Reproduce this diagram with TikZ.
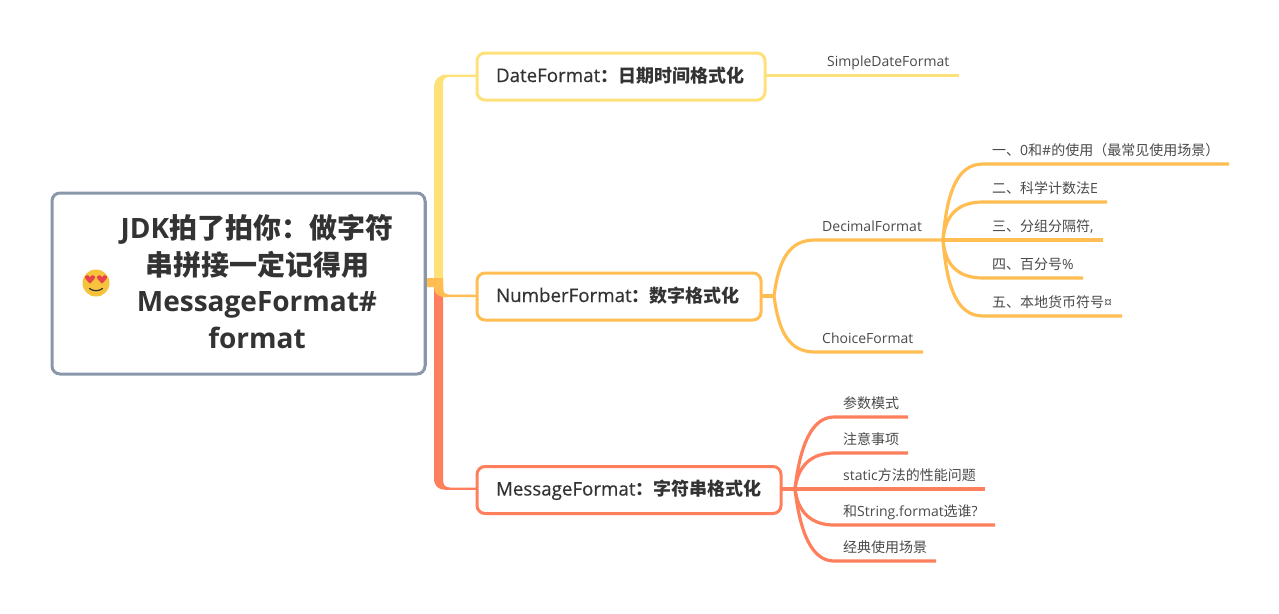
\documentclass[tikz,border=0pt]{standalone}
\usepackage{fontspec}
\setmainfont{Open Sans}
\newfontfamily\cjk{Noto Sans CJK SC}
\newfontfamily\latmed[FakeBold=0.4,Scale=1.04]{Open Sans}
\newcommand{\cj}[1]{{\cjk #1}}
\newcommand{\cjbf}[1]{{\cjk\bfseries #1}}
\usetikzlibrary{calc}
\definecolor{rootline}{HTML}{8A97AB}
\definecolor{ybr}{HTML}{FFE17A}
\definecolor{obr}{HTML}{FFBD52}
\definecolor{rbr}{HTML}{FF7F5C}
\definecolor{txtdark}{HTML}{333333}
\definecolor{txtleaf}{HTML}{4A4A4A}
\definecolor{emo}{HTML}{F6C33C}
\definecolor{heart}{HTML}{E8434C}
\tikzset{
  rootbox/.style={draw=rootline,line width=3pt,rounded corners=8pt,fill=white,minimum width=373pt,minimum height=181pt,inner sep=0,outer sep=0},
  rootlabel/.style={text=txtdark,align=center,inner sep=0,font=\fontsize{28}{36.5}\selectfont\bfseries},
  branchbox/.style={line width=3pt,rounded corners=8pt,fill=white,inner xsep=0,inner ysep=0,outer sep=0,text=txtdark,align=left,text height=15pt,text depth=4pt,minimum height=47pt,font=\fontsize{18}{22}\selectfont\latmed},
  leaf/.style={anchor=base west,inner sep=0,text=txtleaf,font=\fontsize{14}{17}\selectfont},
  midleaf/.style={anchor=base west,inner sep=0,text=txtleaf,font=\fontsize{14}{17}\selectfont},
  wire/.style={line width=3.2pt,line cap=butt},
}
\begin{document}
\begin{tikzpicture}[x=1pt,y=-1pt]
\useasboundingbox (0,0) rectangle (1279,613);
\fill[white] (0,0) rectangle (1279,613);

% hub where the trunks leave the root
\coordinate (hub) at (438.5,282.5);

\node[rootbox] (root) at (238.5,283.5) {};
\node[rootlabel] (rootlabel) at (257,281.5) {JDK\cjbf{拍了拍你：做字符}\\\cjbf{串拼接一定记得用}\\MessageFormat\#\\format};

% emoji
\fill[emo] (96,283) circle (13.5);
\fill[heart] (90,283.5) .. controls (85,279) and (84.5,277.5) .. (85,276.5) .. controls (86,274.5) and (89,274.5) .. (90,277) .. controls (91,274.5) and (94,274.5) .. (95,276.5) .. controls (95.5,277.5) and (95,279) .. (90,283.5) -- cycle;
\fill[heart] (102,283.5) .. controls (97,279) and (96.5,277.5) .. (97,276.5) .. controls (98,274.5) and (101,274.5) .. (102,277) .. controls (103,274.5) and (106,274.5) .. (107,276.5) .. controls (107.5,277.5) and (107,279) .. (102,283.5) -- cycle;
\draw[line width=1.2pt,txtdark,line cap=round] (89.5,288.5) .. controls (93,291.5) and (99,291.5) .. (102.5,288.5);

% yellow trunk
\node[branchbox,draw=ybr,minimum width=288pt,text width=250pt] (date) at (621,76.5) {DateFormat\cjbf{：日期时间格式化}};
\fill[ybr] ($(hub)+(-4.5,0)$) -- (434,88) .. controls (434,79) and (439,74.5) .. (447,74.5) -- (date.west |- 0,74.5) -- (date.west |- 0,76.8) -- (450,76.8) .. controls (445.5,76.8) and (443,79) .. (443,84) -- ($(hub)+(4.5,0)$) -- cycle;

% red trunk
\node[branchbox,draw=rbr,minimum width=304pt,text width=266pt] (message) at (629,490) {MessageFormat\cjbf{：字符串格式化}};
\fill[rbr] ($(hub)+(-4.5,0)$) -- (434,478) .. controls (434,486) and (438,489.8) .. (446,489.8) -- (message.west |- 0,489.8) -- (message.west |- 0,487.5) -- (450,487.5) .. controls (445,487.5) and (443,485) .. (443,479) -- ($(hub)+(4.5,0)$) -- cycle;

% orange trunk
\node[branchbox,draw=obr,minimum width=284pt,text width=246pt] (number) at (619,296.5) {NumberFormat\cjbf{：数字格式化}};
\fill[obr] (root.east |- 0,278) -- (443,278) -- (443,287) .. controls (443,292.5) and (445,294.5) .. (449,294.5) -- (number.west |- 0,294.5) -- (number.west |- 0,297) -- (444,297) .. controls (438,297) and (434,293) .. (434,287) -- (root.east |- 0,287) -- cycle;
\draw[rootline,line width=3pt] (root.north east) ++(0,8) -- ($(root.south east)+(0,-8)$);

% date leaf
\coordinate (dj) at (816,75.5);
\node[midleaf] (sdf) at (827,66) {SimpleDateFormat};
\coordinate (sdfend) at (959,75.5);
\draw[wire,ybr] (date.east |- dj) -- (dj) -- (sdfend);

% number subtree
\coordinate (nj) at (774,296);
\coordinate (dec0) at (815,240);
\coordinate (decj) at (943,240);
\coordinate (cho0) at (815,352);
\coordinate (choend) at (923,352);
\node[midleaf] (decimal) at (822,231) {DecimalFormat};
\node[midleaf] (choice) at (822,343) {ChoiceFormat};
\draw[wire,obr] (number.east |- nj) -- (nj);
\draw[wire,obr] (nj) .. controls (779,258) and (790,240) .. (dec0) -- (decj);
\draw[wire,obr] (nj) .. controls (779,334) and (790,352) .. (cho0) -- (choend);

\foreach \nm/\yy/\xe in {na/164/1229,nb/202/1107,nc/240/1103,nd/278/1083,ne/316/1122}{
  \coordinate (\nm s) at (983,\yy);
  \coordinate (\nm e) at (\xe,\yy);
}
\node[leaf] (n1) at (992,155) {\cj{一、}0\cj{和}\#\cj{的使用（最常见使用场景）}};
\node[leaf] (n2) at (992,193) {\cj{二、科学计数法}E};
\node[leaf] (n3) at (992,231) {\cj{三、分组分隔符},};
\node[leaf] (n4) at (992,269) {\cj{四、百分号}\%};
\node[leaf] (n5) at (992,307) {\cj{五、本地货币符号}¤};
\draw[wire,obr] (decj) .. controls (947,190) and (958,164) .. (nas) -- (nae);
\draw[wire,obr] (decj) .. controls (945,215) and (958,202) .. (nbs) -- (nbe);
\draw[wire,obr] (decj) -- (ncs) -- (nce);
\draw[wire,obr] (decj) .. controls (945,265) and (958,278) .. (nds) -- (nde);
\draw[wire,obr] (decj) .. controls (947,290) and (958,316) .. (nes) -- (nee);

% message subtree
\coordinate (mj) at (795,489);
\foreach \nm/\yy/\xe in {ma/417/908,mb/453/908,mc/489/985,md/525/995,me/561/936}{
  \coordinate (\nm s) at (834,\yy);
  \coordinate (\nm e) at (\xe,\yy);
}
\node[leaf] (m1) at (843,408) {\cj{参数模式}};
\node[leaf] (m2) at (843,444) {\cj{注意事项}};
\node[leaf] (m3) at (843,480) {static\cj{方法的性能问题}};
\node[leaf] (m4) at (843,516) {\cj{和}String.format\cj{选谁}?};
\node[leaf] (m5) at (843,552) {\cj{经典使用场景}};
\draw[wire,rbr] (message.east |- mj) -- (mj) -- (mcs) -- (mce);
\draw[wire,rbr] (mj) .. controls (800,445) and (812,417) .. (mas) -- (mae);
\draw[wire,rbr] (mj) .. controls (798,465) and (812,453) .. (mbs) -- (mbe);
\draw[wire,rbr] (mj) .. controls (798,513) and (812,525) .. (mds) -- (mde);
\draw[wire,rbr] (mj) .. controls (800,533) and (812,561) .. (mes) -- (mee);
\end{tikzpicture}
\end{document}
